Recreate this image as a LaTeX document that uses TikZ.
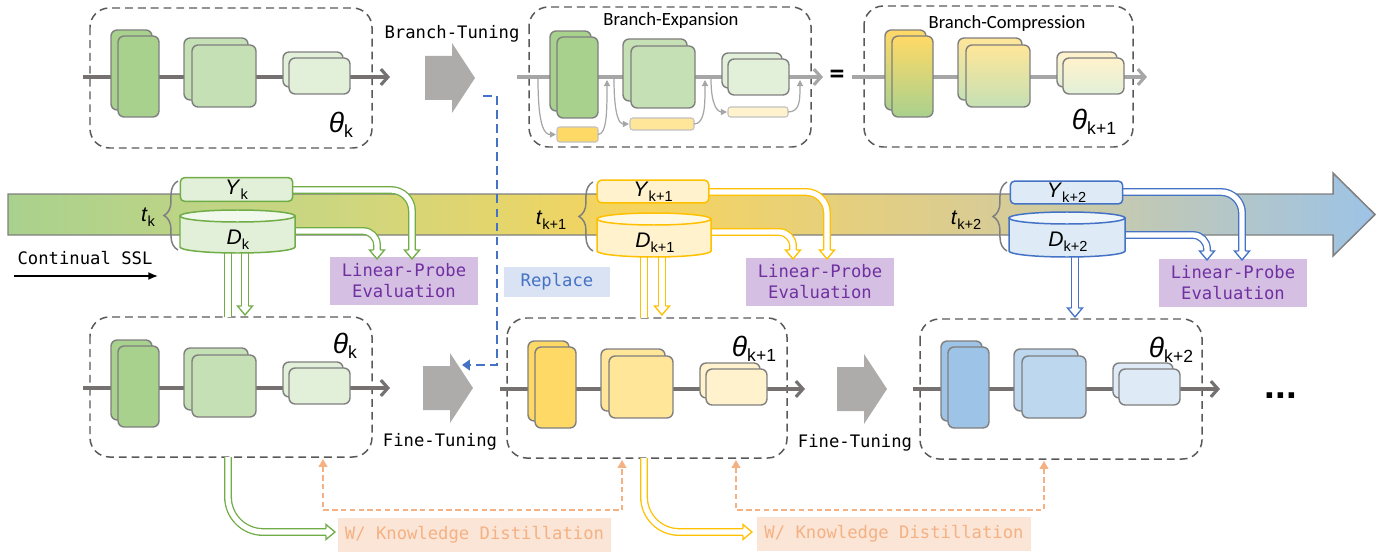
\documentclass[tikz,border=0pt]{standalone}
\usepackage{fontspec}
\setmainfont{Carlito}
\newfontfamily\monof{DejaVu Sans Mono}
\newfontfamily\lsans{Liberation Sans}
\usetikzlibrary{arrows.meta,decorations.pathreplacing,calc}
\definecolor{gG}{HTML}{70AD47}
\definecolor{gY}{HTML}{FFC000}
\definecolor{gB}{HTML}{4472C4}
\definecolor{ga}{HTML}{A9D18E}
\definecolor{gb}{HTML}{C5E0B4}
\definecolor{gc}{HTML}{E2F0D9}
\definecolor{gtop}{HTML}{F1F8EC}
\definecolor{ya}{HTML}{FFD966}
\definecolor{yb}{HTML}{FFE699}
\definecolor{yc}{HTML}{FFF2CC}
\definecolor{ytop}{HTML}{FFF8E3}
\definecolor{ba}{HTML}{9DC3E6}
\definecolor{bb}{HTML}{BDD7EE}
\definecolor{bc}{HTML}{DEEBF7}
\definecolor{btop}{HTML}{EEF5FB}
\definecolor{mlinec}{HTML}{767171}
\definecolor{llinec}{HTML}{A6A6A6}
\definecolor{blkbd}{HTML}{7F7F7F}
\definecolor{dashc}{HTML}{595959}
\definecolor{garrow}{HTML}{AEABAB}
\definecolor{purpF}{HTML}{D5C0E4}
\definecolor{purpT}{HTML}{7030A0}
\definecolor{kdF}{HTML}{FBE5D6}
\definecolor{kdT}{HTML}{F4B183}
\definecolor{repF}{HTML}{DAE3F3}
\definecolor{bandA}{HTML}{A9D18E}
\definecolor{bandAA}{HTML}{CDD67F}
\definecolor{bandB}{HTML}{F7D45C}
\definecolor{bandC}{HTML}{D8CC96}
\definecolor{bandD}{HTML}{9DC3E6}
\pgfdeclarehorizontalshading{bandsh}{100bp}{color(0bp)=(bandA); color(25bp)=(bandA); color(37bp)=(bandAA); color(48bp)=(bandB); color(61bp)=(bandC); color(75bp)=(bandD); color(100bp)=(bandD)}
\newcommand\lab[2]{{\lsans\fontsize{12}{14}\selectfont\textit{#1}\raisebox{-2.8pt}{\fontsize{8.3}{9}\selectfont #2}}}
\newcommand\thl[1]{{\lsans\fontsize{16}{18}\selectfont\textit{θ}\raisebox{-3pt}{\fontsize{10}{11}\selectfont #1}}}
\tikzset{
 blk/.style={draw=blkbd, line width=0.8pt, rounded corners=3.5pt},
 mbox/.style={draw=dashc, dash pattern=on 4.5pt off 2.8pt, line width=0.85pt, rounded corners=11pt},
 mflow/.style={draw=#1, line width=1.8pt, -{Straight Barb[length=4pt,width=9pt]}},
 carr/.style={draw=llinec, line width=0.7pt, -{Triangle[length=3.5pt,width=3.5pt]}},
 barb/.style={draw=llinec!70, line width=0.6pt, rounded corners=1.5pt},
 mtext/.style={font=\monof\fontsize{9.8}{12}\selectfont, inner sep=0pt},
 stext/.style={font=\fontsize{10.6}{12}\selectfont, inner sep=0pt},
 thetal/.style={inner sep=0pt},
 vlbl/.style={inner sep=0pt},
 ybox/.style={draw=#1, line width=0.85pt, rounded corners=2.5pt, minimum height=13.5pt, inner sep=0pt},
 evalb/.style={fill=purpF, text=purpT, minimum width=84pt, minimum height=27pt, align=center, inner sep=0pt, font=\monof\fontsize{9.8}{12}\selectfont},
 kdb/.style={fill=kdF, text=kdT, minimum width=155.5pt, minimum height=19.3pt, inner sep=0pt, font=\monof\fontsize{9.8}{12}\selectfont},
 repb/.style={fill=repF, text=gB, minimum width=60pt, minimum height=17pt, inner sep=0pt, font=\monof\fontsize{9.8}{12}\selectfont},
 dbl/.style={draw=#1, line width=0.75pt, double=white, double distance=3pt},
 brc/.style={decorate, decoration={brace, amplitude=8pt}, draw=blkbd, line width=0.85pt},
 kdash/.style={draw=kdT, line width=0.85pt, dash pattern=on 3pt off 2pt, {Triangle[length=4.5pt,width=5pt]}-{Triangle[length=4.5pt,width=5pt]}},
 bdash/.style={draw=gB, line width=1.4pt, dash pattern=on 5pt off 3pt, -{Triangle[length=4.5pt,width=6pt]}},
}
\newcommand\modelblocks[3]{%
 \draw[blk,#1] (111,30) rectangle (152,110);
 \draw[blk,#1] (118,36) rectangle (159,117);
 \draw[blk,#2] (184,38) rectangle (248,100);
 \draw[blk,#2] (192,45) rectangle (256,107);
 \draw[blk,#3] (283,52) rectangle (343,87);
 \draw[blk,#3] (289,58) rectangle (350,94);}
\newcommand\bigarrow[2]{\fill[garrow] (#1-50,#2-22) -- (#1-23,#2-22) -- (#1-23,#2-35) -- (#1,#2) -- (#1-23,#2+35) -- (#1-23,#2+22) -- (#1-50,#2+22) -- cycle;}
\newcommand\cylinder[7]{%
 \pgfmathsetmacro\cx{(#1+#2)/2}\pgfmathsetmacro\rx{(#2-#1)/2}%
 \filldraw[fill=#5, draw=#7, line width=0.85pt] (#1,#3) -- (#1,#4) arc[start angle=180, end angle=0, x radius=\rx, y radius=6] -- (#2,#3) -- cycle;
 \filldraw[fill=#6, draw=#7, line width=0.85pt] (\cx,#3) ellipse [x radius=\rx, y radius=6];}
\newcommand\hdown[2]{%
 \fill[white] ($(#2)+(-7.5,-9)$) -- (#2) -- ($(#2)+(7.5,-9)$) -- cycle;
 \draw[#1, line width=0.75pt, line join=miter] ($(#2)+(-3.3,-9)$) -- ($(#2)+(-7.5,-9)$) -- (#2) -- ($(#2)+(7.5,-9)$) -- ($(#2)+(3.3,-9)$);}
\newcommand\hright[2]{%
 \fill[white] ($(#2)+(-9,-7.5)$) -- (#2) -- ($(#2)+(-9,7.5)$) -- cycle;
 \draw[#1, line width=0.75pt, line join=miter] ($(#2)+(-9,-3.3)$) -- ($(#2)+(-9,-7.5)$) -- (#2) -- ($(#2)+(-9,7.5)$) -- ($(#2)+(-9,3.3)$);}
\begin{document}
\begin{tikzpicture}[x=0.02cm,y=-0.02cm]
\useasboundingbox (0,0) rectangle (1396,554);
% ---------- band ----------
\shadedraw[shading=bandsh, draw=blkbd, line width=0.85pt] (8,194) -- (1333,194) -- (1333,173) -- (1375,214.5) -- (1333,256) -- (1333,235) -- (8,235) -- cycle;
% ---------- top row ----------
\draw[mbox] (90,8) rectangle (372,148);
\coordinate (m1in) at (83,77); \coordinate (m1out) at (390,77);
\draw[mflow=mlinec] (m1in) -- (m1out);
\modelblocks{fill=ga}{fill=gb}{fill=gc}
\node[thetal] (th1) at (341,125) {\thl{k}};
\node[mtext] (btune) at (452,34) {Branch-Tuning};
\bigarrow{475}{78}
\draw[mbox] (529,7) rectangle (811,147);
\node[stext] (bexp) at (671,21) {Branch-Expansion};
\coordinate (m2in) at (517,77); \coordinate (m2out) at (823,77);
\draw[mflow=llinec] (m2in) -- (m2out);
\begin{scope}[shift={(439,1)}]
\modelblocks{fill=ga}{fill=gb}{fill=gc}
\end{scope}
\draw[barb, fill=ya] (557,127) rectangle (598,142);
\draw[barb, fill=yb] (630,118) rectangle (694,130);
\draw[barb, fill=yc] (728,107) rectangle (788,117);
\draw[carr] (538,79) .. controls (538,128) and (545,134.5) .. (556,134.5);
\draw[carr] (598,134.5) .. controls (607,134.5) and (607,110) .. (607,80);
\draw[carr] (614,79) .. controls (614,118) and (620,124) .. (629,124);
\draw[carr] (694,124) .. controls (705,124) and (705,105) .. (705,80);
\draw[carr] (711,79) .. controls (711,106) and (718,112) .. (727,112);
\draw[carr] (788,112) .. controls (800,112) and (800,100) .. (800,80);
\node[font=\fontsize{17}{17}\selectfont\bfseries, inner sep=0pt] (eq) at (837,77) {=};
\draw[mbox] (864,6) rectangle (1133,147);
\node[stext] (bcomp) at (1007,24) {Branch-Compression};
\coordinate (m3in) at (852,77); \coordinate (m3out) at (1147,77);
\draw[mflow=llinec] (m3in) -- (m3out);
\begin{scope}[shift={(774,0)}]
\modelblocks{top color=ya,bottom color=ga}{top color=yb,bottom color=gb}{top color=yc,bottom color=gc}
\end{scope}
\node[thetal] (th2) at (1094,122) {\thl{k+1}};
% ---------- bottom row ----------
\draw[mbox] (90,317) rectangle (372,457);
\coordinate (m4in) at (83,388); \coordinate (m4out) at (390,388);
\draw[mflow=mlinec] (m4in) -- (m4out);
\begin{scope}[shift={(0,310)}]
\modelblocks{fill=ga}{fill=gb}{fill=gc}
\end{scope}
\node[thetal] (th3) at (345,346) {\thl{k}};
\bigarrow{473}{388}
\node[mtext] (ft1) at (440,442) {Fine-Tuning};
\draw[mbox] (507,318) rectangle (787,458);
\coordinate (m5in) at (500,389); \coordinate (m5out) at (805,389);
\draw[mflow=mlinec] (m5in) -- (m5out);
\begin{scope}[shift={(417,311)}]
\modelblocks{fill=ya}{fill=yb}{fill=yc}
\end{scope}
\node[thetal] (th4) at (754,349) {\thl{k+1}};
\bigarrow{887}{389}
\node[mtext] (ft2) at (855,443) {Fine-Tuning};
\draw[mbox] (920,319) rectangle (1202,459);
\coordinate (m6in) at (913,389); \coordinate (m6out) at (1220,389);
\draw[mflow=mlinec] (m6in) -- (m6out);
\begin{scope}[shift={(830,311)}]
\modelblocks{fill=ba}{fill=bb}{fill=bc}
\end{scope}
\node[thetal] (th5) at (1171,350) {\thl{k+2}};
\node[font=\lsans\fontsize{22}{22}\selectfont\bfseries, inner sep=0pt] (dots) at (1281,396) {...};
% ---------- continual SSL ----------
\node[mtext] (cssl) at (85,258) {Continual SSL};
\coordinate (cs1) at (14,276); \coordinate (cs2) at (158,276);
\draw[line width=0.85pt, -{Latex[length=5.5pt,width=4.5pt]}] (cs1) -- (cs2);
% ---------- double connectors ----------
\coordinate (tYa) at (412,259); \coordinate (tDa) at (377,259); \coordinate (tVa) at (245,315);
\coordinate (tYb) at (827,259); \coordinate (tDb) at (793,259); \coordinate (tVb) at (662,315);
\coordinate (tYc) at (1242,260); \coordinate (tDc) at (1207,260); \coordinate (tVc) at (1075,317);
\draw[dbl=gG, rounded corners=12pt] (290,190) -| ($(tYa)+(0,-9)$);
\draw[dbl=gG, rounded corners=8pt] (292,231) -| ($(tDa)+(0,-9)$);
\draw[dbl=gG] (228,250) -- (228,317);
\draw[dbl=gG] (245,250) -- ($(tVa)+(0,-9)$);
\draw[dbl=gY, rounded corners=12pt] (706,192) -| ($(tYb)+(0,-9)$);
\draw[dbl=gY, rounded corners=8pt] (708,232) -| ($(tDb)+(0,-9)$);
\draw[dbl=gY] (644,254) -- (644,318);
\draw[dbl=gY] (662,254) -- ($(tVb)+(0,-9)$);
\draw[dbl=gB, rounded corners=12pt] (1120,192) -| ($(tYc)+(0,-9)$);
\draw[dbl=gB, rounded corners=8pt] (1122,235) -| ($(tDc)+(0,-9)$);
\draw[dbl=gB] (1075,254) -- ($(tVc)+(0,-9)$);
% ---------- data nodes ----------
\node[ybox=gG, fill=gc, minimum width=64pt] (yk) at (236.5,189.5) {\lab{Y}{k}};
\cylinder{180}{295}{216}{247}{gc}{gtop}{gG}
\node[vlbl] (dk) at (238,240) {\lab{D}{k}};
\node[ybox=gY, fill=yc, minimum width=63.5pt, minimum height=13pt] (yk1) at (653,191.5) {\lab{Y}{k+1}};
\cylinder{597}{711}{219}{251}{yc}{ytop}{gY}
\node[vlbl] (dk1) at (655,243) {\lab{D}{k+1}};
\node[ybox=gB, fill=bc, minimum width=64pt, minimum height=13pt] (yk2) at (1066.5,192.5) {\lab{Y}{k+2}};
\cylinder{1009}{1125}{218}{251}{bc}{btop}{gB}
\node[vlbl] (dk2) at (1068,242) {\lab{D}{k+2}};
% braces
\draw[brc] (178,250) -- (178,181);
\node[vlbl] (tk) at (148,217) {\lab{t}{k}};
\draw[brc] (593,251) -- (593,182);
\node[vlbl] (tk1) at (551,220) {\lab{t}{k+1}};
\draw[brc] (1007,251) -- (1007,182);
\node[vlbl] (tk2) at (966,220) {\lab{t}{k+2}};
% eval boxes
\node[evalb] (ev1) at (404,281) {Linear-Probe\\Evaluation};
\node[evalb] (ev2) at (820,282) {Linear-Probe\\Evaluation};
\node[evalb] (ev3) at (1233,283) {Linear-Probe\\Evaluation};
\hdown{gG}{tYa} \hdown{gG}{tDa} \hdown{gG}{tVa}
\hdown{gY}{tYb} \hdown{gY}{tDb} \hdown{gY}{tVb}
\hdown{gB}{tYc} \hdown{gB}{tDc} \hdown{gB}{tVc}
% replace
\node[repb] (rep) at (557,282) {Replace};
\coordinate (r1) at (483,96); \coordinate (r2) at (462,365);
\draw[bdash] (r1) -- (497,96) -- (497,365) -- (r2);
% ---------- knowledge distillation ----------
\node[kdb] (kd1) at (474.5,535) {W/ Knowledge Distillation};
\node[kdb] (kd2) at (894,534) {W/ Knowledge Distillation};
\coordinate (kga) at (335,532); \coordinate (kgb) at (752,532);
\draw[dbl=gG, rounded corners=20pt] (228,457) |- ($(kga)+(-9,0)$);
\hright{gG}{kga}
\draw[dbl=gY, rounded corners=20pt] (644,458) |- ($(kgb)+(-9,0)$);
\hright{gY}{kgb}
\draw[kdash] (323,459) -- (323,510) -- (622,510) -- (622,460);
\draw[kdash] (736,460) -- (736,510) -- (1044,510) -- (1044,461);
\end{tikzpicture}
\end{document}
